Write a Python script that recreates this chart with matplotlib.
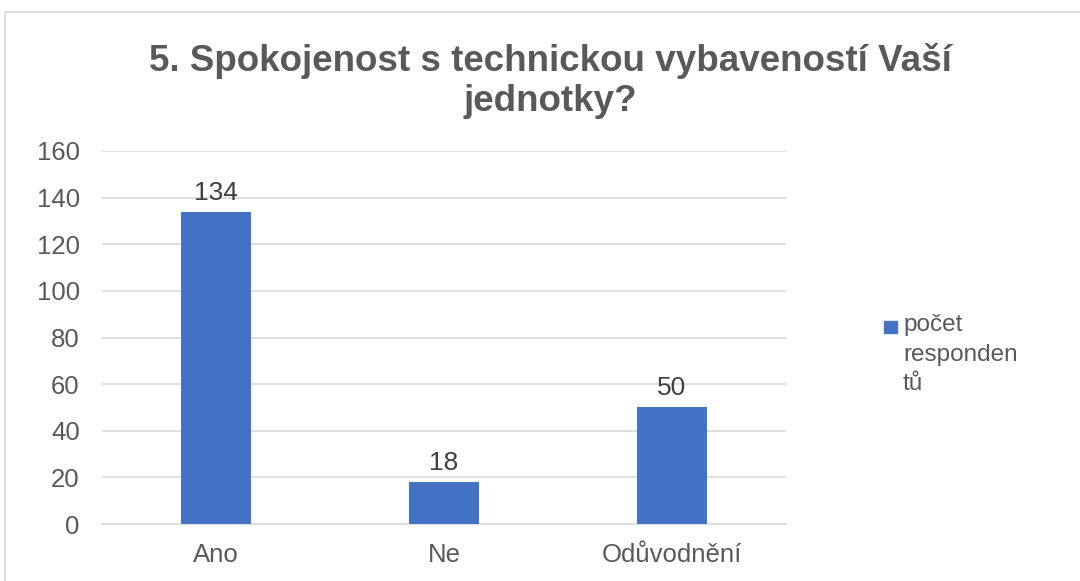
import matplotlib
matplotlib.use("Agg")
import matplotlib.pyplot as plt
from matplotlib.patches import Rectangle

categories = ["Ano", "Ne", "Odůvodnění"]
values = [134, 18, 50]
series_name = "počet\nresponden\ntů"
title = "5. Spokojenost s technickou vybaveností Vaší\njednotky?"
yticks = [0, 20, 40, 60, 80, 100, 120, 140, 160]

W, H = 1080, 581
fig = plt.figure(figsize=(W / 100, H / 100), dpi=100)
plt.rcParams['font.family'] = ['Liberation Sans', 'DejaVu Sans']
gray = "#595959"
blue = "#4472C4"

# outer chart border
fig.patches.append(Rectangle((5 / W, -0.1), 2, 1 - 12 / H + 0.1, transform=fig.transFigure,
                             fill=False, edgecolor="#D9D9D9", linewidth=1.2))

ax = fig.add_axes([102 / W, 1 - 524 / H, 684 / W, 373 / H])
x = list(range(len(categories)))
bars = ax.bar(x, values, width=0.31, color=blue, zorder=3)
ax.set_xlim(-0.5, len(categories) - 0.5)
ax.set_ylim(0, 160)
ax.set_yticks(yticks)
ax.set_xticks(x)
ax.set_xticklabels(categories)
ax.grid(axis="y", color="#D9D9D9", linewidth=1.2, zorder=0)
for s in ["top", "right", "left"]:
    ax.spines[s].set_visible(False)
ax.spines["bottom"].set_color("#D9D9D9")
ax.spines["bottom"].set_linewidth(1.2)
ax.tick_params(axis="both", length=0, labelsize=18.5, colors=gray)
ax.tick_params(axis="y", pad=16)
ax.tick_params(axis="x", pad=14)
for b, v in zip(bars, values):
    ax.annotate(str(v), (b.get_x() + b.get_width() / 2, v), xytext=(0, 5),
                textcoords="offset points", ha="center", va="bottom",
                fontsize=19, color="#404040")

fig.text(550 / W, 1 - 81 / H, title, ha="center", va="center", fontsize=26.5,
         fontweight="bold", color=gray, linespacing=1.22)

# legend
fig.patches.append(Rectangle((884 / W, 1 - 333 / H), 13 / W, 12 / H,
                             transform=fig.transFigure, color=blue))
fig.text(903 / W, 1 - 314 / H, series_name, ha="left", va="top", fontsize=17.5,
         color=gray, linespacing=1.45)

fig.savefig("out.png", dpi=100)
